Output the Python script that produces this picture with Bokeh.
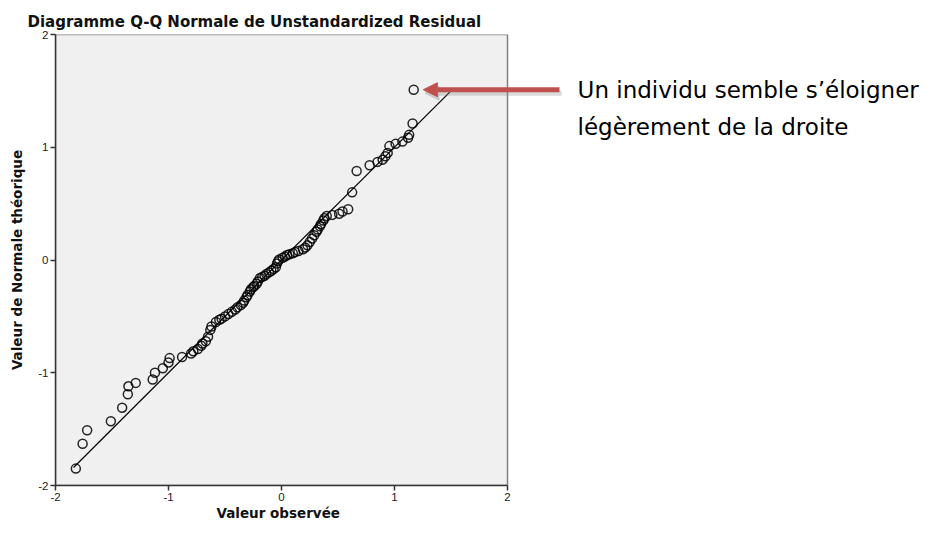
from bokeh.plotting import figure
from bokeh.models import Range1d, Label, Arrow, NormalHead, FixedTicker, Title, PrintfTickFormatter
from bokeh.embed import file_html
from bokeh.resources import INLINE

# Observed residual values (x) and expected normal values (y)
observed = [-1.82, -1.76, -1.72, -1.51, -1.41, -1.36, -1.355, -1.29, -1.14, -1.12,
            -1.05, -1.00, -0.99, -0.88, -0.80, -0.78, -0.74, -0.71, -0.70, -0.67,
            -0.65, -0.63, -0.62, -0.58, -0.55, -0.53, -0.50, -0.47, -0.44, -0.41,
            -0.39, -0.36, -0.34, -0.33, -0.31, -0.30, -0.28, -0.27, -0.25, -0.24,
            -0.22, -0.21, -0.19, -0.17, -0.15, -0.135, -0.11, -0.09, -0.07, -0.05,
            -0.04, -0.03, -0.02, 0.01, 0.03, 0.05, 0.07, 0.10, 0.12, 0.15,
            0.19, 0.21, 0.23, 0.25, 0.27, 0.29, 0.31, 0.32, 0.34, 0.35,
            0.37, 0.38, 0.40, 0.45, 0.51, 0.54, 0.59, 0.625, 0.665, 0.78,
            0.85, 0.895, 0.92, 0.94, 0.955, 1.01, 1.07, 1.12, 1.13, 1.16, 1.17]
expected = [-1.85, -1.63, -1.51, -1.43, -1.31, -1.19, -1.12, -1.09, -1.06, -1.00,
            -0.96, -0.91, -0.87, -0.86, -0.83, -0.81, -0.79, -0.76, -0.74, -0.72,
            -0.68, -0.62, -0.59, -0.55, -0.53, -0.52, -0.50, -0.48, -0.46, -0.44,
            -0.42, -0.40, -0.38, -0.36, -0.33, -0.31, -0.28, -0.26, -0.24, -0.23,
            -0.21, -0.19, -0.16, -0.15, -0.14, -0.125, -0.11, -0.095, -0.08, -0.065,
            -0.03, -0.01, 0.005, 0.02, 0.03, 0.045, 0.05, 0.06, 0.07, 0.08,
            0.095, 0.11, 0.13, 0.16, 0.19, 0.22, 0.25, 0.27, 0.30, 0.32,
            0.35, 0.37, 0.39, 0.40, 0.41, 0.43, 0.45, 0.60, 0.79, 0.84,
            0.87, 0.89, 0.92, 0.95, 1.01, 1.03, 1.05, 1.085, 1.11, 1.21, 1.51]

ref_line_x = [-1.84, 1.52]
ref_line_y = [-1.84, 1.52]

ticks = [-2, -1, 0, 1, 2]
axis_min, axis_max = -2, 2

title_text = "Diagramme Q-Q Normale de Unstandardized Residual"
x_label = "Valeur observée"
y_label = "Valeur de Normale théorique"
note_line1 = "Un individu semble s\u2019éloigner"
note_line2 = "légèrement de la droite"

W, H = 920, 519
LEFT, TOP, BOTTOM = 55, 34, 34
PLOT_W = 452  # pixel width of the [-2, 2] box
frame_w = W - LEFT
x_end = axis_min + (axis_max - axis_min) * frame_w / PLOT_W

p = figure(width=W, height=H, output_backend="svg", toolbar_location=None,
           x_range=Range1d(axis_min, x_end), y_range=Range1d(axis_min, axis_max),
           min_border_left=LEFT, min_border_right=0, min_border_top=TOP,
           min_border_bottom=BOTTOM, title=None)
p.background_fill_color = "white"
p.border_fill_color = "white"
p.outline_line_color = None
p.grid.visible = False

# grey plotting box
p.quad(left=[axis_min], right=[axis_max], bottom=[axis_min], top=[axis_max],
       fill_color="#f0f0f0", line_color="#808080", line_width=1.5)

t = Title(text=title_text, align="left", offset=-28,
          text_font="DejaVu Sans", text_font_size="15px",
          text_font_style="bold", text_color="#111111", standoff=7)
p.add_layout(t, "above")

xl = Title(text=x_label, align="left", offset=161,
           text_font="DejaVu Sans", text_font_size="13.5px",
           text_font_style="bold", text_color="#111111", standoff=-2)
p.add_layout(xl, "below")

for ax in (p.xaxis[0], p.yaxis[0]):
    ax.ticker = FixedTicker(ticks=ticks)
    ax.formatter = PrintfTickFormatter(format="%d")
    ax.bounds = (axis_min, axis_max)
    ax.minor_tick_line_color = None
    ax.major_tick_in = 0
    ax.major_tick_out = 5
    ax.major_tick_line_color = "#333333"
    ax.major_tick_line_width = 1.5
    ax.axis_line_color = "#333333"
    ax.axis_line_width = 1.5
    ax.major_label_text_font = "Liberation Sans"
    ax.major_label_text_font_size = "11.5px"
    ax.major_label_text_color = "#222222"
    ax.axis_label_text_font = "DejaVu Sans"
    ax.axis_label_text_font_size = "13.5px"
    ax.axis_label_text_font_style = "bold"
    ax.axis_label_text_color = "#111111"

p.yaxis.axis_label = y_label
p.xaxis.major_label_standoff = 2
p.yaxis.major_label_standoff = 2
p.yaxis.axis_label_standoff = 10

p.line(ref_line_x, ref_line_y, line_color="black", line_width=1.2)
p.scatter(observed, expected, marker="circle", size=9, fill_color=None,
          line_color="black", line_width=1.5, line_alpha=0.85)

# Arrow pointing to the outlier
ox, oy = observed[-1], expected[-1]
shadow = Arrow(end=NormalHead(size=14, fill_color="#888888", line_color="#888888",
                              fill_alpha=0.3, line_alpha=0.3),
               x_start=2.48, y_start=oy - 0.03, x_end=ox + 0.1, y_end=oy - 0.03,
               line_color="#888888", line_width=5, line_alpha=0.3)
p.add_layout(shadow)
arrow = Arrow(end=NormalHead(size=14, fill_color="#c0504d", line_color="#c0504d"),
              x_start=2.46, y_start=oy, x_end=ox + 0.085, y_end=oy,
              line_color="#c0504d", line_width=5)
p.add_layout(arrow)

p.add_layout(Label(x=2.62, y=1.512, text=note_line1, text_font="DejaVu Sans",
                   text_font_size="23px", text_color="black", text_baseline="alphabetic"))
p.add_layout(Label(x=2.62, y=1.184, text=note_line2, text_font="DejaVu Sans",
                   text_font_size="23px", text_color="black", text_baseline="alphabetic"))

open("out.html", "w").write(file_html(p, INLINE))
